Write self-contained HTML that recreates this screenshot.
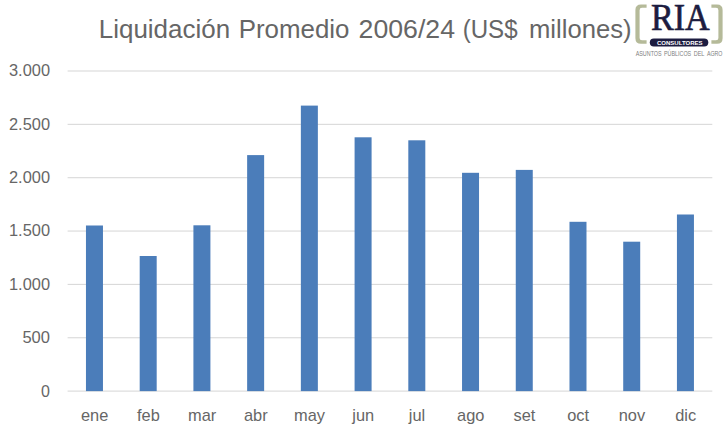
<!DOCTYPE html>
<html lang="es"><head><meta charset="utf-8"><title>Liquidación Promedio 2006/24</title>
<style>
html,body{margin:0;padding:0;background:#fff;}
body{width:728px;height:426px;overflow:hidden;}
svg text{font-family:"Liberation Sans",sans-serif;}
</style></head><body>
<svg width="728" height="426" viewBox="0 0 728 426" style="display:block">
<rect width="728" height="426" fill="#ffffff"/>
<rect x="67.6" y="390.55" width="644.7" height="1.1" fill="#d9d9d9"/>
<rect x="67.6" y="337.20" width="644.7" height="1.1" fill="#d9d9d9"/>
<rect x="67.6" y="283.85" width="644.7" height="1.1" fill="#d9d9d9"/>
<rect x="67.6" y="230.50" width="644.7" height="1.1" fill="#d9d9d9"/>
<rect x="67.6" y="177.15" width="644.7" height="1.1" fill="#d9d9d9"/>
<rect x="67.6" y="123.80" width="644.7" height="1.1" fill="#d9d9d9"/>
<rect x="67.6" y="70.45" width="644.7" height="1.1" fill="#d9d9d9"/>
<rect x="85.96" y="225.50" width="17.0" height="165.60" fill="#4b7dba"/>
<rect x="139.69" y="256.00" width="17.0" height="135.10" fill="#4b7dba"/>
<rect x="193.41" y="225.30" width="17.0" height="165.80" fill="#4b7dba"/>
<rect x="247.14" y="155.10" width="17.0" height="236.00" fill="#4b7dba"/>
<rect x="300.86" y="105.60" width="17.0" height="285.50" fill="#4b7dba"/>
<rect x="354.59" y="137.30" width="17.0" height="253.80" fill="#4b7dba"/>
<rect x="408.31" y="140.30" width="17.0" height="250.80" fill="#4b7dba"/>
<rect x="462.04" y="172.80" width="17.0" height="218.30" fill="#4b7dba"/>
<rect x="515.76" y="169.90" width="17.0" height="221.20" fill="#4b7dba"/>
<rect x="569.49" y="221.80" width="17.0" height="169.30" fill="#4b7dba"/>
<rect x="623.21" y="241.70" width="17.0" height="149.40" fill="#4b7dba"/>
<rect x="676.94" y="214.50" width="17.0" height="176.60" fill="#4b7dba"/>
<text x="50" y="396.50" text-anchor="end" font-size="16" fill="#666666">0</text>
<text x="50" y="343.15" text-anchor="end" font-size="16" fill="#666666" textLength="27.6" lengthAdjust="spacingAndGlyphs">500</text>
<text x="50" y="289.80" text-anchor="end" font-size="16" fill="#666666" textLength="41.0" lengthAdjust="spacingAndGlyphs">1.000</text>
<text x="50" y="236.45" text-anchor="end" font-size="16" fill="#666666" textLength="41.0" lengthAdjust="spacingAndGlyphs">1.500</text>
<text x="50" y="183.10" text-anchor="end" font-size="16" fill="#666666" textLength="41.0" lengthAdjust="spacingAndGlyphs">2.000</text>
<text x="50" y="129.75" text-anchor="end" font-size="16" fill="#666666" textLength="41.0" lengthAdjust="spacingAndGlyphs">2.500</text>
<text x="50" y="76.40" text-anchor="end" font-size="16" fill="#666666" textLength="41.0" lengthAdjust="spacingAndGlyphs">3.000</text>
<text x="94.66" y="420.5" text-anchor="middle" font-size="16.4" fill="#666666">ene</text>
<text x="148.39" y="420.5" text-anchor="middle" font-size="16.4" fill="#666666">feb</text>
<text x="202.11" y="420.5" text-anchor="middle" font-size="16.4" fill="#666666">mar</text>
<text x="255.84" y="420.5" text-anchor="middle" font-size="16.4" fill="#666666">abr</text>
<text x="309.56" y="420.5" text-anchor="middle" font-size="16.4" fill="#666666">may</text>
<text x="363.29" y="420.5" text-anchor="middle" font-size="16.4" fill="#666666">jun</text>
<text x="417.01" y="420.5" text-anchor="middle" font-size="16.4" fill="#666666">jul</text>
<text x="470.74" y="420.5" text-anchor="middle" font-size="16.4" fill="#666666">ago</text>
<text x="524.46" y="420.5" text-anchor="middle" font-size="16.4" fill="#666666">set</text>
<text x="578.19" y="420.5" text-anchor="middle" font-size="16.4" fill="#666666">oct</text>
<text x="631.91" y="420.5" text-anchor="middle" font-size="16.4" fill="#666666">nov</text>
<text x="685.64" y="420.5" text-anchor="middle" font-size="16.4" fill="#666666">dic</text>
<text x="98.8" y="37.5" font-size="25" fill="#666666" textLength="131.3" lengthAdjust="spacingAndGlyphs">Liquidación</text>
<text x="238.7" y="37.5" font-size="25" fill="#666666" textLength="110.8" lengthAdjust="spacingAndGlyphs">Promedio</text>
<text x="358.6" y="37.5" font-size="25" fill="#666666" textLength="96.4" lengthAdjust="spacingAndGlyphs">2006/24</text>
<text x="462.7" y="37.5" font-size="25" fill="#666666" textLength="54.9" lengthAdjust="spacingAndGlyphs">(US$</text>
<text x="528.9" y="37.5" font-size="25" fill="#666666" textLength="102.7" lengthAdjust="spacingAndGlyphs">millones)</text>
<path d="M646.6 4.5 H641 Q635.4 4.5 635.4 10 V38.2 Q635.4 43.7 641 43.7 H646.6 V40.3 H642 Q639.6 40.3 639.6 38 V10.2 Q639.6 7.8 642 7.8 H646.6 Z" fill="#b5ba99"/>
<path d="M711.4 4.5 H717 Q722.6 4.5 722.6 10 V38.2 Q722.6 43.7 717 43.7 H711.4 V40.3 H716 Q718.4 40.3 718.4 38 V10.2 Q718.4 7.8 716 7.8 H711.4 Z" fill="#b5ba99"/>
<text x="651" y="30.3" style="font-family:'Liberation Serif',serif" font-size="38" fill="#1c1c40" stroke="#1c1c40" stroke-width="0.7" textLength="58.7" lengthAdjust="spacingAndGlyphs">RIA</text>
<rect x="649.8" y="38.4" width="58.5" height="8.1" rx="4.05" fill="#1c1c40"/>
<text x="656.9" y="44.9" font-size="6" font-weight="bold" fill="#ffffff" textLength="45.7" lengthAdjust="spacingAndGlyphs">CONSULTORES</text>
<text x="635.7" y="55.6" font-size="6.5" fill="#808080" textLength="25.9" lengthAdjust="spacingAndGlyphs">ASUNTOS</text>
<text x="664.0" y="55.6" font-size="6.5" fill="#808080" textLength="27.2" lengthAdjust="spacingAndGlyphs">PÚBLICOS</text>
<text x="693.7" y="55.6" font-size="6.5" fill="#808080" textLength="10.7" lengthAdjust="spacingAndGlyphs">DEL</text>
<text x="706.9" y="55.6" font-size="6.5" fill="#808080" textLength="15.5" lengthAdjust="spacingAndGlyphs">AGRO</text>
</svg>
</body></html>
